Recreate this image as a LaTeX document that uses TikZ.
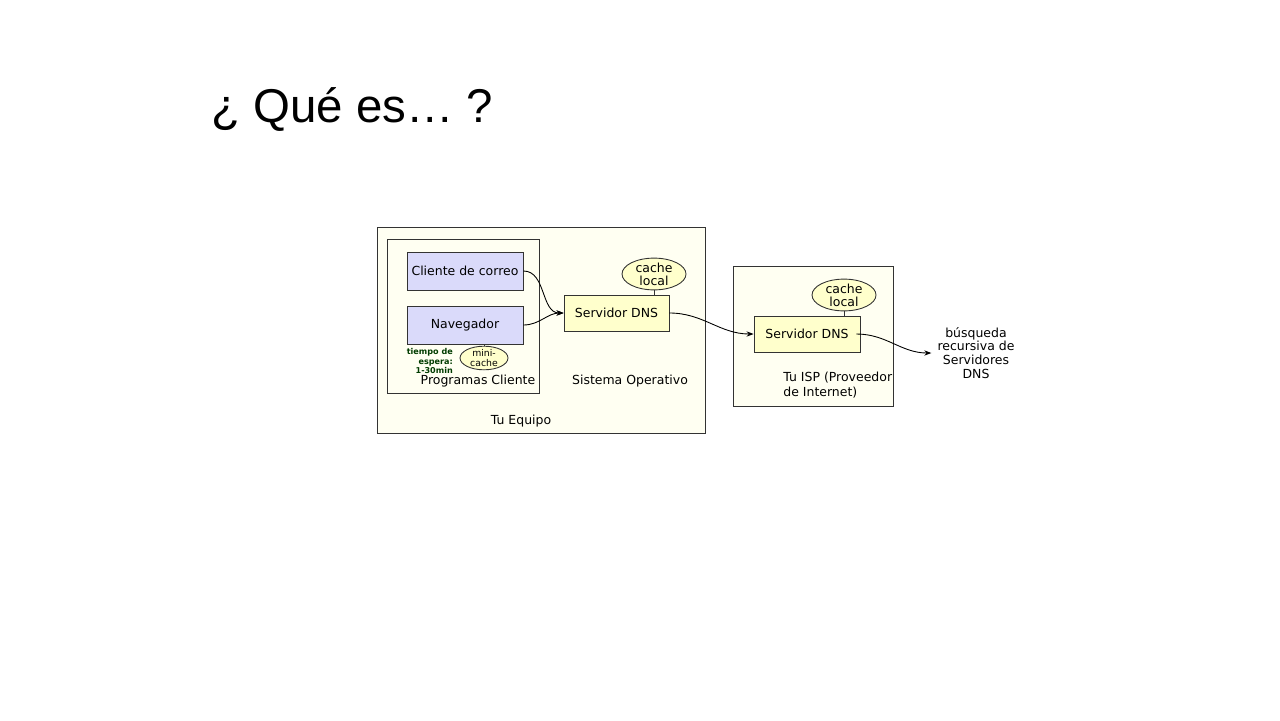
\documentclass[tikz,border=0pt]{standalone}
\usepackage{fontspec}
\setmainfont{DejaVu Sans}
\newfontfamily\titlefont{Liberation Sans}
\usetikzlibrary{arrows.meta,positioning,shapes.geometric}
\definecolor{marfil}{RGB}{255,255,242}
\definecolor{lila}{RGB}{218,218,250}
\definecolor{crema}{RGB}{255,255,204}
\definecolor{verdeosc}{RGB}{0,60,0}

\begin{document}
\begin{tikzpicture}[x=0.02cm, y=-0.02cm, >=Stealth,
  zona/.style={rectangle, draw=black!80, fill=marfil, line width=0.5pt},
  prog/.style={rectangle, draw=black!80, fill=lila, line width=0.5pt, inner xsep=1pt, minimum width=2.32cm, minimum height=0.76cm, font=\fontsize{7.1}{8.5}\selectfont},
  dns/.style={rectangle, draw=black!80, fill=crema, line width=0.5pt, minimum width=2.1cm, minimum height=0.72cm, font=\fontsize{7.1}{8.5}\selectfont},
  cache/.style={ellipse, draw=black!80, fill=crema, line width=0.5pt, inner sep=0pt, minimum width=1.28cm, minimum height=0.6cm, align=center, font=\fontsize{7.1}{7.3}\selectfont},
  etiq/.style={font=\fontsize{7.1}{8.5}\selectfont, align=left},
  flecha/.style={->, line width=0.5pt, arrows={-Stealth[length=4pt,width=3pt]}}]
\useasboundingbox (0,0) rectangle (1280,720);
\node[anchor=west, font=\titlefont\fontsize{27}{32}\selectfont] (titulo) at (205,110) {¿ Qué es… ?};
% cajas grandes
\node[zona, minimum width=6.56cm, minimum height=4.12cm] (equipo) at (541,330) {};
\node[zona, minimum width=3.04cm, minimum height=3.08cm] (programas) at (463,316) {};
\node[zona, minimum width=3.2cm, minimum height=2.8cm] (isp) at (813,336) {};
% programas cliente
\node[prog] (correo) at (465,271) {Cliente de correo};
\node[prog] (nav) at (465,325) {Navegador};
\node[cache, minimum width=0.96cm, minimum height=0.44cm, font=\fontsize{5.3}{5.4}\selectfont] (minicache) at (484,358) {mini-\\cache};
\draw[line width=0.5pt, black!80] (minicache.north) -- (minicache.north |- nav.south);
\node[font=\bfseries\fontsize{4.6}{5.4}\selectfont, text=verdeosc, align=right, anchor=east] (espera) at (459,361) {tiempo de\\espera:\\1-30min};
% servidores
\node[dns] (dns1) at (616.5,313) {Servidor DNS};
\node[cache] (cache1) at (654,274) {cache\\local};
\draw[line width=0.5pt, black!80] (cache1.south) -- (cache1.south |- dns1.north);
\node[dns, minimum width=2.12cm] (dns2) at (807,334) {Servidor DNS};
\node[cache] (cache2) at (844,295) {cache\\local};
\draw[line width=0.5pt, black!80] (cache2.south) -- (cache2.south |- dns2.north);
% textos
\node[etiq] (lprog) at (478,381) {Programas Cliente};
\node[etiq] (lso) at (630,381) {Sistema Operativo};
\node[etiq] (lequipo) at (521,421) {Tu Equipo};
\node[etiq, anchor=west, inner sep=0pt] (lisp) at (783,385) {Tu ISP (Proveedor\\de Internet)};
\node[etiq, align=center, font=\fontsize{7.1}{7.9}\selectfont] (busq) at (976,353) {búsqueda\\recursiva de\\Servidores\\DNS};
% flechas
\draw[flecha] (correo.east) to[out=0, in=180] (dns1.west);
\draw[flecha] (nav.east) to[out=0, in=180] (dns1.west);
\draw[flecha] (dns1.east) to[out=0, in=180] (dns2.west);
\draw[flecha] ([xshift=-0.08cm]dns2.east) to[out=0, in=180] (busq.west);
\end{tikzpicture}
\end{document}
